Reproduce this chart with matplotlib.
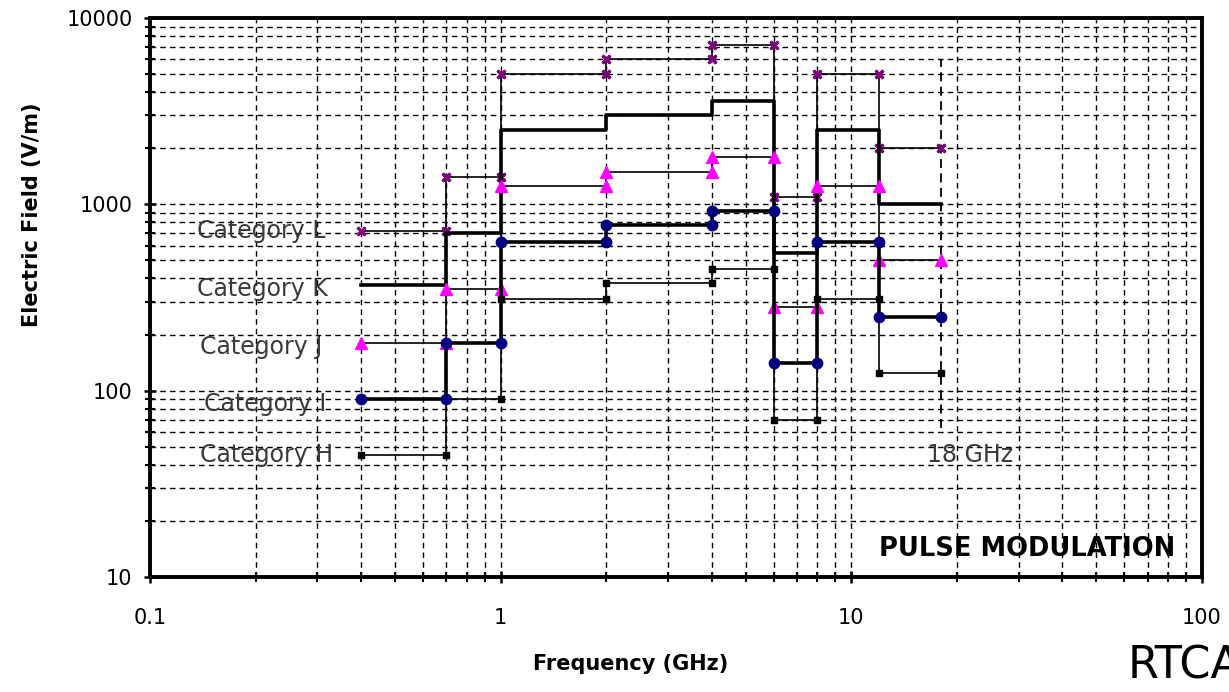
import matplotlib.pyplot as plt
from matplotlib.ticker import LogLocator, FixedLocator, NullFormatter, FixedFormatter

# frequency band edges (GHz) and field levels (V/m) per category
freq_edges = [0.4, 0.7, 1, 2, 4, 6, 8, 12, 18]
cat_L = [720, 1400, 5000, 6000, 7200, 1100, 5000, 2000]
cat_K = [370, 700, 2500, 3000, 3600, 550, 2500, 1000]
cat_J = [180, 350, 1250, 1500, 1800, 280, 1250, 500]
cat_I = [90, 180, 630, 770, 920, 140, 630, 250]
cat_H = [45, 90, 310, 380, 450, 70, 310, 125]

y_ticks = [10, 100, 1000, 10000]
y_tick_labels = ['10', '100', '1000', '10000']
x_ticks = [0.1, 1, 10, 100]
x_tick_labels = ['0.1', '1', '10', '100']


def step_points(edges, levels):
    xs, ys = [], []
    for i, lv in enumerate(levels):
        xs += [edges[i], edges[i + 1]]
        ys += [lv, lv]
    return xs, ys


fig = plt.figure(figsize=(12.29, 6.92), dpi=100)
ax = fig.add_axes([150 / 1229, 1 - 577 / 692, 1052 / 1229, 559 / 692])
ax.set_xscale('log')
ax.set_yscale('log')
ax.set_xlim(0.1, 100)
ax.set_ylim(10, 10000)

ax.grid(True, which='both', linestyle=(0, (4, 3)), color='black', linewidth=1.0)
ax.set_axisbelow(True)

thin = 1.2
thick = 2.6

xs, ys = step_points(freq_edges, cat_L)
ax.plot(xs, ys, color='black', lw=thin, marker=(4, 2, 45), ms=8, mec='#800080', mew=2, zorder=3)
xs, ys = step_points(freq_edges, cat_K)
ax.plot(xs, ys, color='black', lw=thick, zorder=3)
xs, ys = step_points(freq_edges, cat_J)
ax.plot(xs, ys, color='black', lw=thin, marker='^', ms=9, mfc='#ff00ff', mec='#ff00ff', zorder=4)
xs, ys = step_points(freq_edges, cat_I)
ax.plot(xs, ys, color='black', lw=thick, marker='o', ms=7.5, mfc='#000080', mec='#000080', zorder=4)
xs, ys = step_points(freq_edges, cat_H)
ax.plot(xs, ys, color='black', lw=thin, marker='s', ms=4.5, mfc='black', mec='black', zorder=3)

# 18 GHz marker line
ax.plot([18, 18], [63, 6000], color='black', lw=1.3, linestyle=(0, (5, 3)), zorder=2)

lab_color = '#3a3a3a'
lab_size = 17
ax.text(0.136, 720, 'Category L', fontsize=lab_size, color=lab_color, va='center', ha='left')
ax.text(0.136, 350, 'Category K', fontsize=lab_size, color=lab_color, va='center', ha='left')
ax.text(0.139, 172, 'Category J', fontsize=lab_size, color=lab_color, va='center', ha='left')
ax.text(0.143, 85, 'Category I', fontsize=lab_size, color=lab_color, va='center', ha='left')
ax.text(0.139, 45, 'Category H', fontsize=lab_size, color=lab_color, va='center', ha='left')
ax.text(21.8, 45, '18 GHz', fontsize=lab_size, color=lab_color, va='center', ha='center')

ax.text(0.975, 0.05, 'PULSE MODULATION', transform=ax.transAxes, fontsize=18.5,
        fontweight='bold', ha='right', va='center')

ax.yaxis.set_major_locator(FixedLocator(y_ticks))
ax.yaxis.set_major_formatter(FixedFormatter(y_tick_labels))
ax.yaxis.set_minor_locator(LogLocator(base=10, subs=range(2, 10)))
ax.yaxis.set_minor_formatter(NullFormatter())
ax.xaxis.set_major_locator(FixedLocator(x_ticks))
ax.xaxis.set_major_formatter(FixedFormatter(x_tick_labels))
ax.xaxis.set_minor_locator(LogLocator(base=10, subs=range(2, 10)))
ax.xaxis.set_minor_formatter(NullFormatter())

ax.tick_params(which='major', direction='inout', length=9, width=1.8, labelsize=15, color='black')
ax.tick_params(which='minor', direction='inout', length=7, width=1.5)
ax.tick_params(axis='x', which='major', pad=18)
ax.tick_params(axis='y', which='major', pad=8)

for sp in ax.spines.values():
    sp.set_linewidth(2.8)

ax.set_xlabel('Frequency (GHz)', fontsize=15, fontweight='bold')
ax.xaxis.set_label_coords(0.457, -0.138)
ax.set_ylabel('Electric Field (V/m)', fontsize=15, fontweight='bold')
ax.yaxis.set_label_coords(-0.103, 0.648)

fig.text(1128 / 1229, 1 - 666 / 692, 'RTCA', fontsize=32, va='center', ha='left')

fig.savefig('out.png', dpi=100)
